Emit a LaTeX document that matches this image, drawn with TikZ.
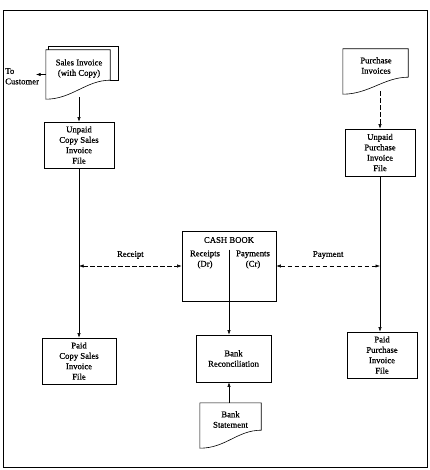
\documentclass[tikz,border=0pt]{standalone}
\usepackage{fontspec}
\setmainfont{Liberation Serif}[FakeBold=0.7]
\usetikzlibrary{arrows.meta}
% document symbol: outline drawn around an empty node, right bottom corner raised by #2
\newcommand\docoutline[2]{%
  \draw[line width=0.6pt] (#1.north west) -- (#1.north east) -- ([yshift=#2]#1.south east)
    .. controls ([xshift=-24pt,yshift=#2]#1.south east) and ([xshift=26pt]#1.south west) .. (#1.south west) -- cycle;}
\begin{document}
\begin{tikzpicture}[x=1pt,y=-1pt,
  every node/.style={font=\fontsize{8.7}{10.4}\selectfont, align=center, inner sep=0pt},
  box/.style={draw, line width=0.6pt, minimum width=70pt, minimum height=46pt},
  docshape/.style={minimum width=#1, minimum height=45pt},
  arr/.style={line width=0.5pt, -{Latex[length=4.5pt,width=3.2pt]}},
  darr/.style={arr, dash pattern=on 4.5pt off 2.5pt},
]
\useasboundingbox (0,0) rectangle (429,470);
\draw[line width=0.9pt] (3,10) rectangle (427,467);

% sales invoice with copy behind it
\draw[line width=0.6pt] (48,50) -- (48,46) -- (118,46) -- (118,80) -- (110,80);
\node[docshape=64pt, minimum height=49pt, fill=white] (sdoc) at (78,74.5) {};
\docoutline{sdoc}{19pt}
\node (sdoct) at (79,68.5) {Sales Invoice\\(with Copy)};
\node[align=left, anchor=north west] (cust) at (5,68) {To\\Customer};
\coordinate (tc) at (36,74.5);

% left column
\node[box] (unpaidS) at (79,145) {Unpaid\\Copy Sales\\Invoice\\File};
\node[box, minimum width=74pt] (paidS) at (79,361) {Paid\\Copy Sales\\Invoice\\File};

% cash book
\node[box, minimum width=94pt, minimum height=70pt] (cash) at (229,266) {};
\node (cashT) at (229,240) {CASH BOOK};
\node (rec) at (205,259.5) {Receipts\\(Dr)};
\node (pay) at (253,259.5) {Payments\\(Cr)};

\node[box, minimum width=75pt, minimum height=47pt] (recon) at (233.5,358.5) {Bank\\Reconciliation};
\node[docshape=61pt] (stmt) at (230.5,425.5) {};
\docoutline{stmt}{18pt}
\node (stmtt) at (230.5,419.5) {Bank\\Statement};

% right column
\node[docshape=65pt] (pdoc) at (375.5,71.5) {};
\docoutline{pdoc}{17pt}
\node (pdoct) at (376,65.5) {Purchase\\Invoices};
\node[box, minimum height=47pt] (unpaidP) at (380,152.5) {Unpaid\\Purchase\\Invoice\\File};
\node[box] (paidP) at (382,355) {Paid\\Purchase\\Invoice\\File};

% flows
\draw[arr] (sdoc.west) -- (tc);
\draw[arr] ([yshift=2pt]sdoc.south -| unpaidS.north) -- (unpaidS.north);
\draw[arr] (unpaidS.south) -- (paidS.north);
\draw[darr] ([yshift=3pt]pdoc.south -| unpaidP.north) -- (unpaidP.north);
\draw[arr] (unpaidP.south) -- (unpaidP.south |- paidP.north);

\coordinate (rl) at (unpaidS.south |- cash.west);
\coordinate (pr) at (unpaidP.south |- cash.east);
\draw[darr, {Latex[length=4.5pt,width=3.2pt]}-{Latex[length=4.5pt,width=3.2pt]}] (rl) -- node[above=7pt] (receipt) {Receipt} (cash.west);
\draw[darr, {Latex[length=4.5pt,width=3.2pt]}-{Latex[length=4.5pt,width=3.2pt]}] (cash.east) -- node[above=7pt] (payment) {Payment} (pr);

\draw[arr] ([yshift=-19pt]cash.north) -- (cash.north |- recon.north);
\draw[arr] (cash.north |- stmt.north) -- (cash.north |- recon.south);
\end{tikzpicture}
\end{document}
